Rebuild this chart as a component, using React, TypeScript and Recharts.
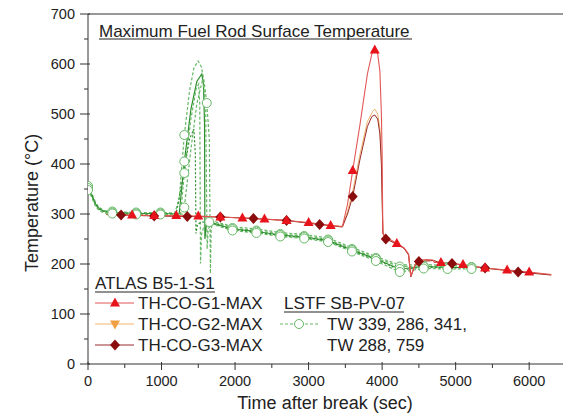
import React from 'react';
import { ComposedChart, Line, XAxis, YAxis, ReferenceLine } from 'recharts';

type Pt = [number, number];

// axis ticks (minor every 500 s / 50 °C, labels on majors only)
const xTicks = [0, 500, 1000, 1500, 2000, 2500, 3000, 3500, 4000, 4500, 5000, 5500, 6000];
const yTicks = [0, 50, 100, 150, 200, 250, 300, 350, 400, 450, 500, 550, 600, 650, 700];

// ATLAS B5-1-S1
const g1Line: Pt[] = [
  [250, 300], [450, 298], [600, 298], [900, 297], [1200, 297], [1350, 296], [1500, 296],
  [1800, 294], [2100, 292], [2250, 291], [2400, 290], [2700, 287], [3000, 283], [3150, 280],
  [3300, 277], [3460, 275], [3530, 320], [3600, 387], [3700, 480], [3800, 580], [3860, 620],
  [3900, 628], [3940, 620], [3970, 585], [3990, 500], [4000, 420], [4010, 262], [4050, 252],
  [4120, 248], [4200, 241], [4300, 232], [4360, 220], [4390, 175], [4440, 195], [4480, 207],
  [4600, 209], [4690, 208], [4710, 203], [4800, 203], [5100, 199], [5400, 192], [5700, 188],
  [6000, 184], [6300, 179],
];
const g1Marks = [600, 900, 1200, 1500, 1800, 2100, 2400, 2700, 3000, 3300, 3600, 3900, 4200, 4500, 4800, 5100, 5400, 5700, 6000];

const g2Line: Pt[] = [
  [250, 299], [450, 298], [900, 297], [1350, 296], [1800, 294], [2250, 291], [2700, 287],
  [3150, 280], [3460, 275], [3530, 305], [3600, 345], [3700, 420], [3800, 485], [3870, 505],
  [3900, 510], [3940, 500], [3970, 470], [3990, 410], [4005, 300], [4015, 258], [4050, 251],
  [4200, 240], [4300, 231], [4360, 218], [4390, 176], [4440, 196], [4480, 206], [4700, 207],
  [4800, 202], [5100, 198], [5400, 191], [5700, 187], [6000, 183], [6300, 178],
];

const g3Line: Pt[] = [
  [250, 299], [450, 298], [900, 296], [1350, 295], [1800, 294], [2250, 291], [2700, 287],
  [3150, 279], [3460, 274], [3530, 300], [3600, 335], [3700, 410], [3800, 475], [3860, 495],
  [3900, 498], [3940, 490], [3970, 460], [3990, 400], [4000, 330], [4010, 262], [4050, 250],
  [4200, 240], [4300, 231], [4360, 218], [4390, 174], [4440, 195], [4500, 205], [4700, 207],
  [4800, 202], [4950, 201], [5100, 198], [5400, 192], [5700, 187], [5850, 184], [6300, 178],
];
const g3Marks = [450, 900, 1350, 1800, 2250, 2700, 3150, 3600, 4050, 4500, 4950, 5400, 5850];

// LSTF SB-PV-07
const tw339: Pt[] = [
  [0, 356], [50, 342], [100, 324], [150, 313], [220, 307], [330, 305], [655, 303], [985, 303],
  [1180, 302], [1240, 330], [1310, 458], [1380, 545], [1440, 592], [1497, 606], [1540, 595],
  [1580, 565], [1615, 522], [1650, 450], [1665, 181], [1675, 270], [1700, 285], [1965, 272],
  [2290, 267], [2615, 260], [2940, 256], [3265, 249], [3590, 230], [3915, 212], [4240, 195],
  [4565, 196], [4890, 194], [5215, 194],
];
const tw286: Pt[] = [
  [0, 352], [50, 338], [100, 320], [150, 311], [220, 305], [330, 303], [655, 301], [985, 301],
  [1240, 300], [1310, 405], [1400, 510], [1480, 565], [1547, 580], [1570, 560], [1585, 480],
  [1590, 250], [1610, 278], [1650, 284], [1965, 270], [2290, 265], [2615, 258], [2940, 254],
  [3265, 247], [3590, 228], [3915, 210], [4240, 190], [4565, 195], [4890, 193], [5215, 193],
];
const tw341: Pt[] = [
  [0, 350], [50, 336], [100, 318], [150, 309], [220, 304], [330, 302], [655, 300], [985, 300],
  [1260, 300], [1310, 382], [1400, 490], [1470, 550], [1505, 560], [1520, 520], [1530, 201],
  [1545, 260], [1600, 286], [1650, 288], [1965, 275], [2290, 270], [2615, 263], [2940, 259],
  [3265, 252], [3590, 233], [3915, 215], [4240, 198], [4565, 199], [4890, 197], [5215, 197],
];
const tw288: Pt[] = [
  [0, 348], [50, 334], [100, 316], [150, 307], [220, 302], [330, 301], [655, 299], [985, 299],
  [1290, 300], [1310, 313], [1400, 430], [1480, 520], [1560, 570], [1600, 520], [1620, 230],
  [1635, 270], [1680, 280], [1965, 267], [2290, 262], [2615, 255], [2940, 251], [3265, 244],
  [3590, 225], [3915, 206], [4240, 184], [4565, 191], [4890, 190], [5215, 190],
];
const tw759: Pt[] = [
  [0, 353], [50, 339], [100, 321], [150, 310], [220, 305], [330, 303], [655, 301], [985, 301],
  [1200, 301], [1300, 380], [1380, 450], [1440, 470], [1460, 420], [1468, 261], [1490, 280],
  [1560, 284], [1650, 283], [1965, 269], [2290, 264], [2615, 257], [2940, 253], [3265, 246],
  [3590, 227], [3915, 209], [4240, 188], [4565, 194], [4890, 192], [5215, 192],
];
const twMarks = [0, 330, 655, 985, 1310, 1965, 2290, 2615, 2940, 3265, 3590, 3915, 4240, 4565, 4890, 5215];

const RED = '#e8141b';
const RED_LINE = '#e25555';
const ORANGE = '#f0a040';
const ORANGE_LINE = '#f0b46e';
const DARK = '#8a0c0c';
const DARK_LINE = '#9a2a2a';
const GREEN = '#2f8f2f';
const GREEN_LIGHT = '#66b866';

const rows = (pts: Pt[]) => pts.map(([t, v]) => ({ t, v }));

const marker = (kind: string, cx: number, cy: number, color: string, key?: string) => {
  if (kind === 'tri')
    return <polygon key={key} points={`${cx},${cy - 5.5} ${cx - 5},${cy + 3.5} ${cx + 5},${cy + 3.5}`} fill={color} />;
  if (kind === 'triDown')
    return <polygon key={key} points={`${cx},${cy + 5.5} ${cx - 5},${cy - 3.5} ${cx + 5},${cy - 3.5}`} fill={color} />;
  if (kind === 'diamond')
    return <polygon key={key} points={`${cx},${cy - 5.5} ${cx + 5},${cy} ${cx},${cy + 5.5} ${cx - 5},${cy}`} fill={color} />;
  return <circle key={key} cx={cx} cy={cy} r={4.5} fill="#fff" stroke={color} strokeWidth={1} />;
};

const dotAt = (marks: number[], kind: string, color: string) => (p: any) => {
  const { cx, cy, payload, index } = p;
  if (cx == null || !marks.includes(payload.t)) return <g key={`n${index}`} />;
  return marker(kind, cx, cy, color, `m${index}`);
};

const XTick = (p: any) => {
  const { x, y, payload } = p;
  const major = payload.value % 1000 === 0;
  return (
    <g>
      <line x1={x} x2={x} y1={y - (major ? 2 : 0)} y2={y + (major ? 6 : 4)} stroke="#333" />
      {major && (
        <text x={x} y={y + 22} textAnchor="middle" fontSize={14.5} fill="#222">
          {payload.value}
        </text>
      )}
    </g>
  );
};

const YTick = (p: any) => {
  const { x, y, payload } = p;
  const major = payload.value % 100 === 0;
  return (
    <g>
      <line x1={x - (major ? 8 : 4)} x2={x + (major ? 2 : 0)} y1={y} y2={y} stroke="#333" />
      {major && (
        <text x={x - 13} y={y + 5} textAnchor="end" fontSize={14.5} fill="#222">
          {payload.value}
        </text>
      )}
    </g>
  );
};

const greenLines: { name: string; pts: Pt[]; color: string; dash?: string; marks: number[] }[] = [
  { name: 'TW 339', pts: tw339, color: GREEN_LIGHT, dash: '3 2', marks: [...twMarks, 1615] },
  { name: 'TW 286', pts: tw286, color: GREEN, marks: [...twMarks, 1650] },
  { name: 'TW 341', pts: tw341, color: GREEN_LIGHT, dash: '3 2', marks: [1310] },
  { name: 'TW 288', pts: tw288, color: GREEN_LIGHT, dash: '3 2', marks: twMarks },
  { name: 'TW 759', pts: tw759, color: GREEN, dash: '2 2', marks: [] },
];

export default function App() {
  const font = '"Liberation Sans", Arial, sans-serif';
  return (
    <div style={{ position: 'absolute', left: 0, top: 0, width: 563, height: 414, background: '#fff', fontFamily: font }}>
      <ComposedChart width={563} height={414} margin={{ top: 14, right: 0, left: 0, bottom: 0 }}>
        <XAxis
          dataKey="t"
          type="number"
          domain={[0, 6460]}
          ticks={xTicks}
          interval={0}
          allowDataOverflow
          height={50}
          tickSize={0}
          tickMargin={0}
          tickLine={false}
          tick={<XTick />}
          axisLine={{ stroke: '#333' }}
        />
        <YAxis
          type="number"
          domain={[0, 700]}
          ticks={yTicks}
          interval={0}
          allowDataOverflow
          width={88}
          tickSize={0}
          tickMargin={0}
          tickLine={false}
          tick={<YTick />}
          axisLine={{ stroke: '#333' }}
        />
        <ReferenceLine y={700} stroke="#333" />
        {greenLines.map((g) => (
          <Line
            key={g.name}
            data={rows(g.pts)}
            dataKey="v"
            type="linear"
            stroke={g.color}
            strokeWidth={1.2}
            strokeDasharray={g.dash}
            dot={dotAt(g.marks, 'circle', GREEN_LIGHT)}
            activeDot={false}
            isAnimationActive={false}
          />
        ))}
        <Line data={rows(g2Line)} dataKey="v" type="linear" stroke={ORANGE_LINE} strokeWidth={1} dot={false} activeDot={false} isAnimationActive={false} />
        <Line data={rows(g3Line)} dataKey="v" type="linear" stroke={DARK_LINE} strokeWidth={1} dot={dotAt(g3Marks, 'diamond', DARK)} activeDot={false} isAnimationActive={false} />
        <Line data={rows(g1Line)} dataKey="v" type="linear" stroke={RED_LINE} strokeWidth={1.1} dot={dotAt(g1Marks, 'tri', RED)} activeDot={false} isAnimationActive={false} />
      </ComposedChart>

      <svg width={563} height={414} style={{ position: 'absolute', left: 0, top: 0, pointerEvents: 'none' }} fontFamily={font}>
        <text x={99} y={37} fontSize={17} fill="#222">Maximum Fuel Rod Surface Temperature</text>
        <line x1={99} x2={412} y1={39} y2={39} stroke="#222" />

        <text x={325} y={409} textAnchor="middle" fontSize={18} fill="#222">Time after break (sec)</text>
        <text transform="translate(38,203) rotate(-90)" textAnchor="middle" fontSize={18} fill="#222">Temperature (°C)</text>

        <text x={95} y={289} fontSize={17} fill="#222">ATLAS B5-1-S1</text>
        <line x1={95} x2={215} y1={292} y2={292} stroke="#222" />
        <line x1={95} x2={134} y1={303} y2={303} stroke={RED_LINE} />
        {marker('tri', 115, 303, RED)}
        <text x={138} y={309} fontSize={17} fill="#222">TH-CO-G1-MAX</text>
        <line x1={95} x2={134} y1={324} y2={324} stroke={ORANGE_LINE} />
        {marker('triDown', 115, 324, ORANGE)}
        <text x={138} y={330} fontSize={17} fill="#222">TH-CO-G2-MAX</text>
        <line x1={95} x2={134} y1={345} y2={345} stroke={DARK_LINE} />
        {marker('diamond', 115, 345, DARK)}
        <text x={138} y={351} fontSize={17} fill="#222">TH-CO-G3-MAX</text>

        <text x={284} y={309} fontSize={17} fill="#222">LSTF SB-PV-07</text>
        <line x1={284} x2={404} y1={312} y2={312} stroke="#222" />
        <line x1={280} x2={318} y1={324} y2={324} stroke={GREEN_LIGHT} strokeDasharray="3 2" />
        {marker('circle', 299, 324, GREEN_LIGHT)}
        <text x={327} y={330} fontSize={17} fill="#222">TW 339, 286, 341,</text>
        <text x={327} y={351} fontSize={17} fill="#222">TW 288, 759</text>
      </svg>
    </div>
  );
}
